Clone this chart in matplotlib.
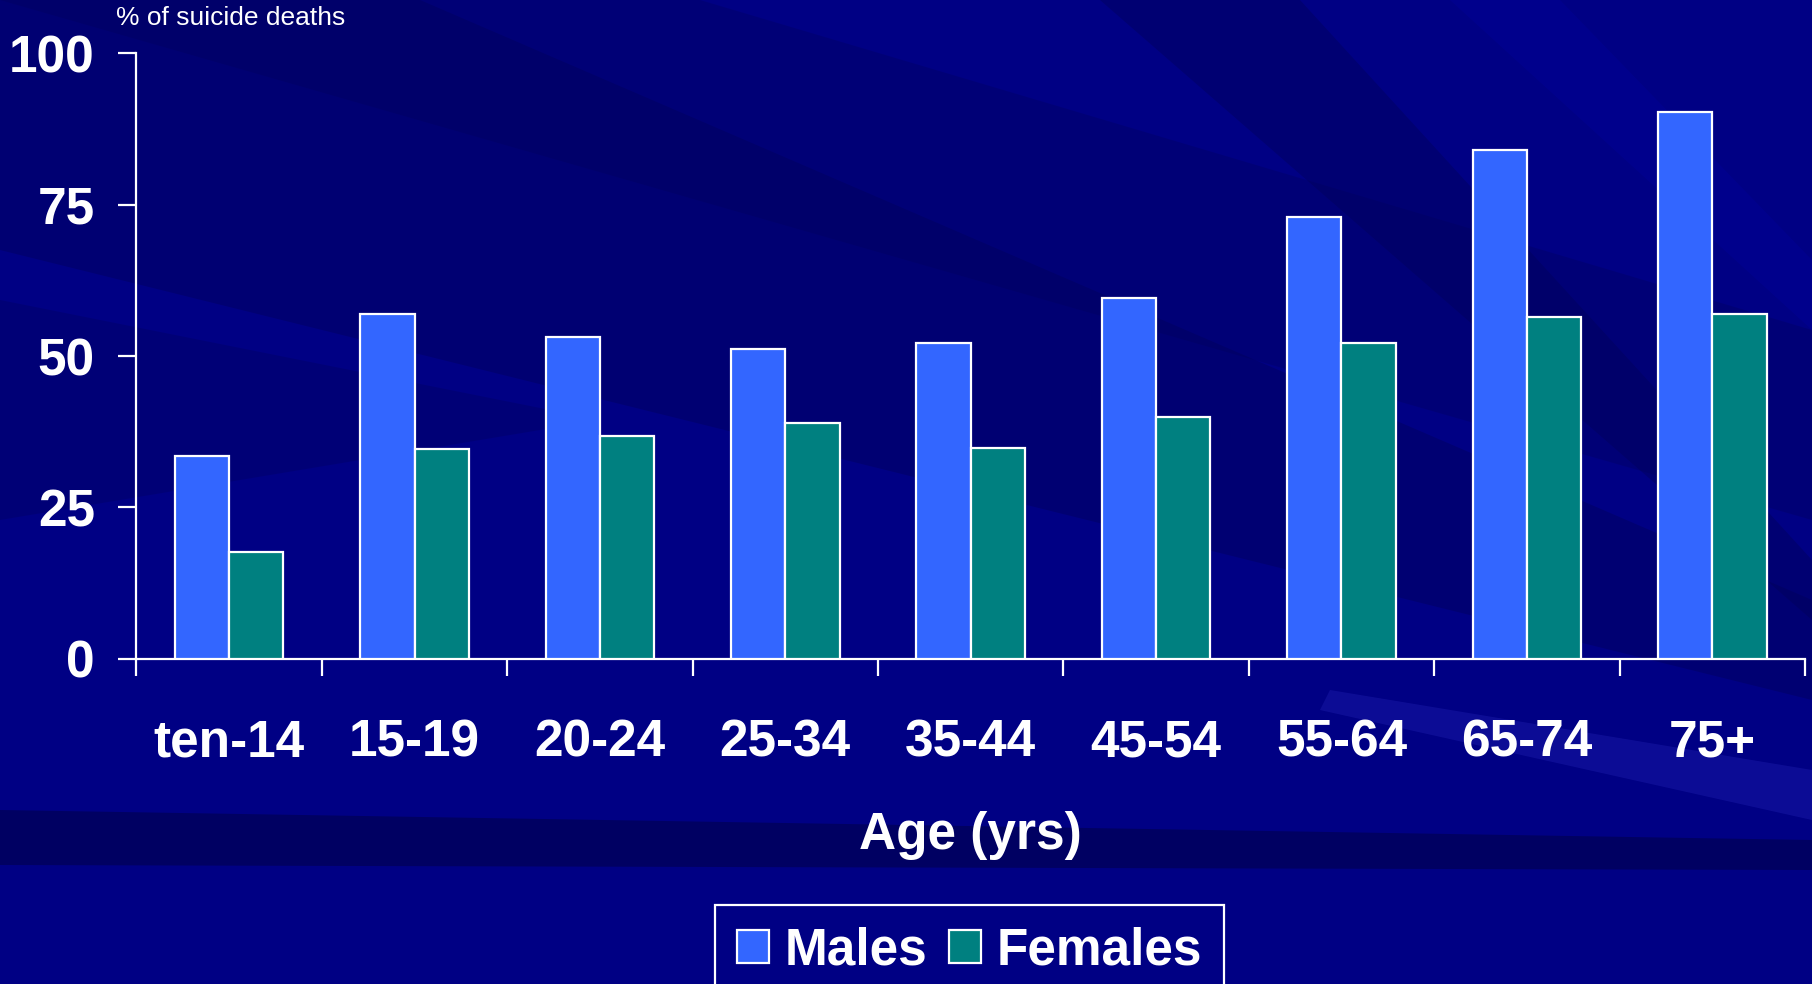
import matplotlib
matplotlib.use("Agg")
import matplotlib.pyplot as plt
import numpy as np
from matplotlib.patches import Polygon

categories = ["ten-14", "15-19", "20-24", "25-34", "35-44", "45-54", "55-64", "65-74", "75+"]
males = [33.5, 56.9, 53.2, 51.1, 52.1, 59.6, 72.9, 84.0, 90.3]
females = [17.7, 34.6, 36.8, 38.9, 34.9, 39.9, 52.1, 56.5, 56.9]
series_names = ["Males", "Females"]
y_ticks = [0, 25, 50, 75, 100]

male_color = "#3366FF"
female_color = "#008080"
bg_color = "#000084"
FONT = "Liberation Sans"

fig = plt.figure(figsize=(18.12, 9.84), dpi=100, facecolor=bg_color)

# decorative background streaks
bg = fig.add_axes([0, 0, 1, 1], zorder=-10)
bg.set_xlim(0, 1812)
bg.set_ylim(984, 0)
bg.axis("off")
bg.set_facecolor(bg_color)
dark = "#00006A"
darker = "#000058"
streaks = [
    ([(0, 0), (700, 0), (1812, 330), (1812, 520)], dark, 0.5),
    ([(0, 0), (420, 0), (1812, 600), (1812, 700), (0, 250)], darker, 0.4),
    ([(1100, 0), (1300, 0), (1812, 560), (1812, 620)], darker, 0.4),
    ([(1450, 0), (1560, 0), (1812, 260), (1812, 330)], "#00009A", 0.4),
    ([(0, 300), (600, 420), (0, 520)], darker, 0.3),
    ([(1330, 690), (1812, 770), (1812, 820), (1320, 710)], "#2020B0", 0.4),
    ([(0, 810), (1812, 840), (1812, 870), (0, 865)], "#00005A", 0.8),
]
for pts, c, a in streaks:
    bg.add_patch(Polygon(pts, closed=True, facecolor=c, edgecolor="none", alpha=a))

ax = fig.add_axes([0.0753, 0.3303, 0.9961 - 0.0753, 0.9461 - 0.3303])
ax.patch.set_alpha(0)

x = np.arange(len(categories))
w = 0.293
ax.bar(x - w / 2, males, width=w, color=male_color, edgecolor="white",
       linewidth=1.6, label=series_names[0], zorder=3)
ax.bar(x + w / 2, females, width=w, color=female_color, edgecolor="white",
       linewidth=1.6, label=series_names[1], zorder=3)

ax.set_xlim(-0.5, len(categories) - 0.5)
ax.set_ylim(0, 100)

for s in ["top", "right"]:
    ax.spines[s].set_visible(False)
for s in ["left", "bottom"]:
    ax.spines[s].set_color("white")
    ax.spines[s].set_linewidth(1.6)

ax.set_yticks(y_ticks)
ax.set_yticklabels([str(v) for v in y_ticks], fontsize=37, fontweight="bold",
                   family=FONT, color="white")
ax.tick_params(axis="y", direction="out", length=13, width=1.6, color="white", pad=17)

ax.set_xticks(x)
ax.set_xticklabels(categories, fontsize=37, fontweight="bold", family=FONT, color="white")
ax.tick_params(axis="x", which="major", length=0, pad=43)
ax.set_xticks(np.arange(-0.5, len(categories)), minor=True)
ax.tick_params(axis="x", which="minor", direction="out", length=12.5, width=1.6, color="white")

ax.set_xlabel("Age (yrs)", fontsize=37, fontweight="bold", family=FONT,
              color="white", labelpad=31)

fig.text(116 / 1812, 1 - 18 / 984, "% of suicide deaths", fontsize=19, family=FONT,
         color="white", ha="left", va="center")

leg = ax.legend(loc="upper center", bbox_to_anchor=(969.6 / 1812, 1 - 905 / 984),
                bbox_transform=fig.transFigure, ncol=2, frameon=True, fancybox=False,
                prop={"family": FONT, "weight": "bold", "size": 37},
                handlelength=0.63, handleheight=0.63, handletextpad=0.3,
                columnspacing=0.42, borderpad=0.42, borderaxespad=0)
leg.get_frame().set_facecolor(bg_color)
leg.get_frame().set_edgecolor("white")
leg.get_frame().set_linewidth(1.6)
leg.get_frame().set_alpha(1)
for t in leg.get_texts():
    t.set_color("white")

fig.savefig("out.png", dpi=100, facecolor=bg_color)
